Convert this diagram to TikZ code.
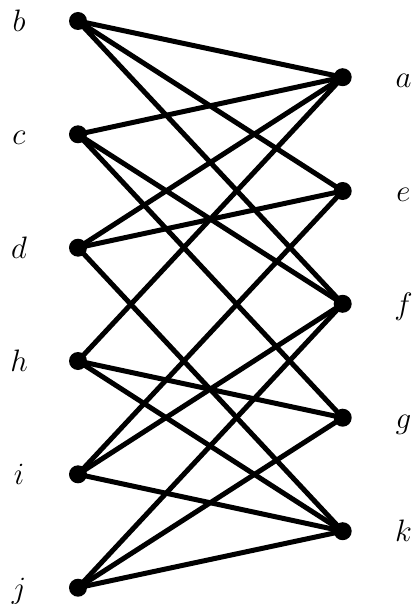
\RequirePackage{fix-cm}
\documentclass[tikz,border=0pt]{standalone}
\begin{document}
\begin{tikzpicture}[x=1pt,y=-1pt,
  vtx/.style={circle,fill=black,inner sep=0pt,minimum size=18pt},
  lbl/.style={anchor=base,inner sep=0pt,font=\fontsize{31}{36}\selectfont},
  edge/.style={line width=5pt,line cap=round}]
\useasboundingbox (0,0) rectangle (414,604);
% left column
\foreach \n/\y in {b/21,c/134.3,d/247.7,h/361,i/474.3,j/587.7}{
  \node[vtx] (\n) at (78,\y) {};
  \node[lbl] (l\n) at (19,\y+10.5) {$\n$};
}
% right column
\foreach \n/\y in {a/77.2,e/191,f/303.8,g/417.7,k/531.2}{
  \node[vtx] (\n) at (342.7,\y) {};
  \node[lbl] (l\n) at (403.5,\y+10.5) {$\n$};
}
\foreach \u/\v in {b/a,b/e,b/f,c/a,c/f,c/g,d/a,d/e,d/k,h/a,h/g,h/k,i/e,i/f,i/k,j/f,j/g,j/k}{
  \draw[edge] (\u.center) -- (\v.center);
}
\end{tikzpicture}
\end{document}
